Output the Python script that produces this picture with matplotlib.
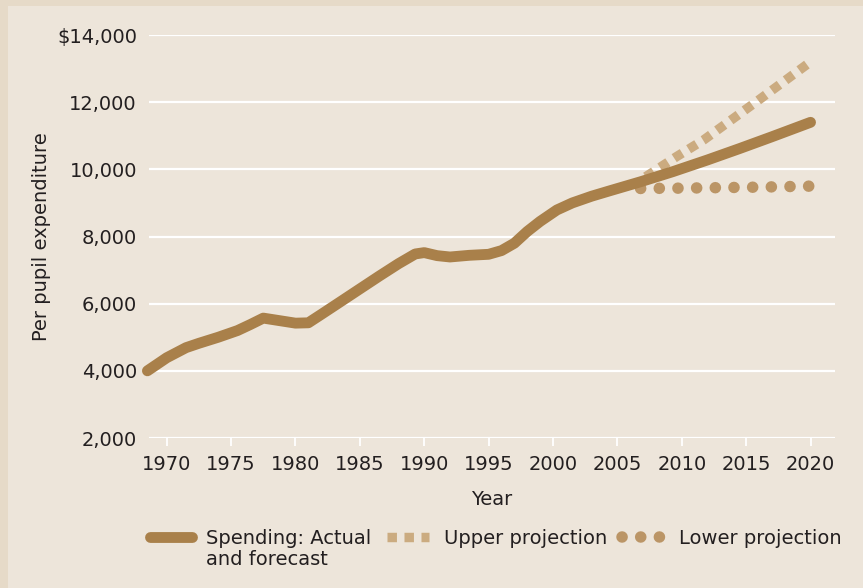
import matplotlib.pyplot as plt
from matplotlib.lines import Line2D
from matplotlib.patches import Rectangle

# spending actual + forecast
years = [1968.5, 1970, 1971.5, 1972.5, 1974, 1975.5, 1976.5, 1977.5, 1978.5, 1980, 1981,
         1982, 1983.7, 1985, 1986.5, 1988, 1989.3, 1990, 1991, 1992, 1993.5, 1995, 1996,
         1997, 1998, 1999, 2000.3, 2001.5, 2003, 2004.4, 2006.8, 2009.3, 2012, 2014.5,
         2017, 2020]
spending = [4000, 4390, 4690, 4820, 5000, 5200, 5380, 5570, 5510, 5420, 5430,
            5680, 6110, 6440, 6820, 7190, 7480, 7520, 7430, 7390, 7440, 7470, 7580,
            7800, 8150, 8450, 8790, 9000, 9200, 9360, 9630, 9930, 10280, 10620,
            10970, 11400]

upper_years = [2007.2, 2009.6, 2011.7, 2015.8, 2020]
upper = [9780, 10380, 10875, 12015, 13200]

lower_years = [2006.8, 2010, 2013, 2016, 2020]
lower = [9430, 9440, 9455, 9470, 9500]

xticks = [1970, 1975, 1980, 1985, 1990, 1995, 2000, 2005, 2010, 2015, 2020]
yticks = [2000, 4000, 6000, 8000, 10000, 12000, 14000]
ylabels = ['2,000', '4,000', '6,000', '8,000', '10,000', '12,000', '$14,000']

c_main = '#a9804a'
c_upper = '#cbab80'
c_lower = '#bb9566'
c_text = '#231f20'
fs = 14

up_style = dict(color=c_upper, lw=6.8, linestyle=(0, (1.0, 0.8)), dash_capstyle='butt')
lo_style = dict(color=c_lower, lw=8.3, linestyle=(0, (0.01, 1.61)), dash_capstyle='round')
main_style = dict(color=c_main, lw=7.8, solid_capstyle='round', solid_joinstyle='round')

fig = plt.figure(figsize=(8.63, 5.88), dpi=100)
fig.patch.set_facecolor('#e6dac8')
# inner panel (lighter beige)
panel = Rectangle((8 / 863, 0), 1, 1 - 6 / 588, transform=fig.transFigure,
                  facecolor='#ede5da', edgecolor='none', zorder=-10)
fig.patches.append(panel)

ax = fig.add_axes([148.7 / 863, 1 - 438 / 588, (835 - 148.7) / 863, (438 - 35) / 588])
ax.set_facecolor('none')

ax.plot(upper_years, upper, zorder=3, **up_style)
ax.plot(lower_years, lower, zorder=3, **lo_style)
ax.plot(years, spending, zorder=4, clip_on=False, **main_style)

ax.set_xlim(1968.6, 2021.9)
ax.set_ylim(2000, 14000)
ax.set_xticks(xticks)
ax.set_yticks(yticks)
ax.set_yticklabels(ylabels)
ax.grid(axis='y', color='white', lw=1.6, zorder=1)
ax.set_axisbelow(True)
for s in ax.spines.values():
    s.set_visible(False)
ax.tick_params(axis='y', length=0, pad=8.5, labelsize=fs, labelcolor=c_text)
ax.tick_params(axis='x', length=6, width=1.3, color='white', pad=6, labelsize=fs,
               labelcolor=c_text)

ax.set_xlabel('Year', fontsize=fs, color=c_text, labelpad=12)
ax.set_ylabel('Per pupil expenditure', fontsize=fs, color=c_text, labelpad=4)

handles = [Line2D([], [], **main_style), Line2D([], [], **up_style), Line2D([], [], **lo_style)]
labels = ['Spending: Actual', 'Upper projection', 'Lower projection']
leg = ax.legend(handles, labels, loc='center left', bbox_to_anchor=(150 / 863, 1 - 538 / 588),
                bbox_transform=fig.transFigure, ncol=3, frameon=False, fontsize=fs,
                handlelength=2.15, handletextpad=0.75, columnspacing=0.8, labelcolor=c_text,
                borderaxespad=0, borderpad=0)
# second line of the first legend label
ax.annotate('and forecast', xy=(0, 0), xycoords=leg.get_texts()[0], xytext=(0, -2),
            textcoords='offset points', ha='left', va='top', fontsize=fs, color=c_text,
            annotation_clip=False, zorder=10)

fig.canvas.draw()
fig.savefig('out.png', dpi=100, facecolor=fig.get_facecolor())
